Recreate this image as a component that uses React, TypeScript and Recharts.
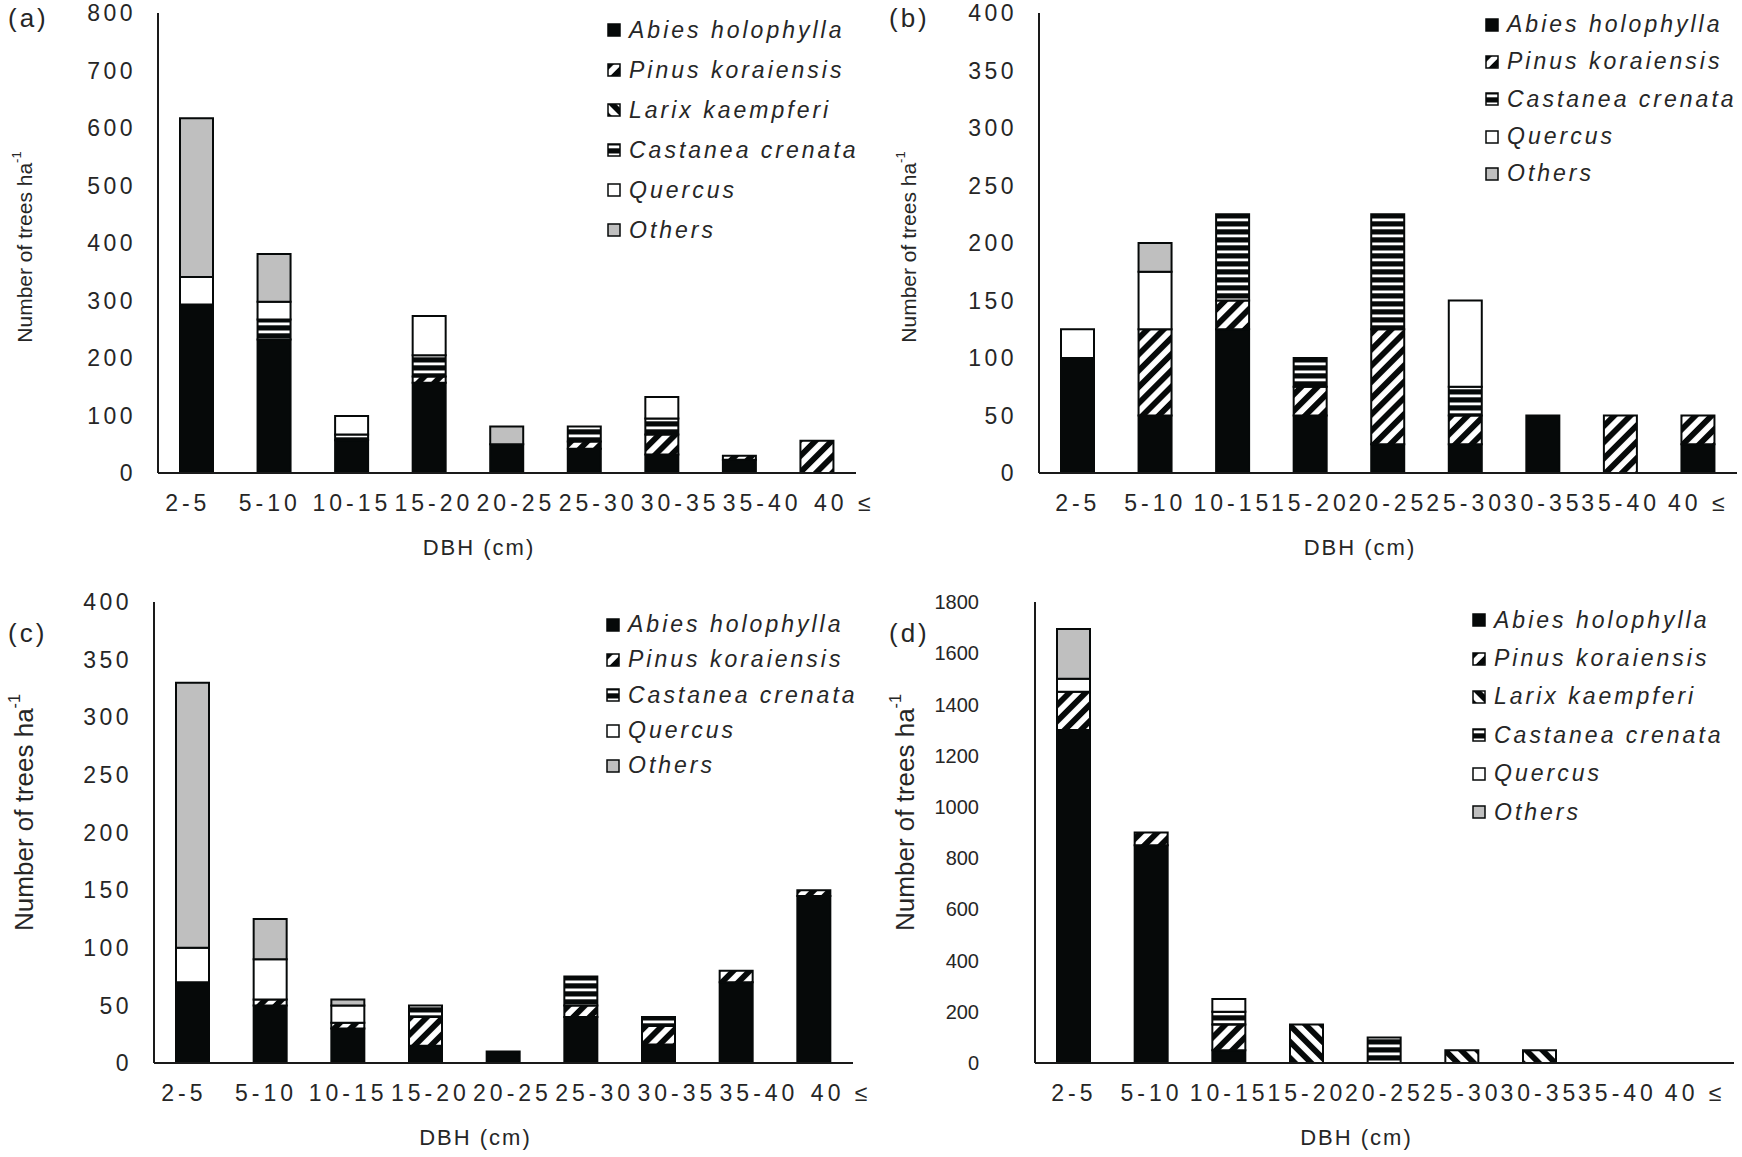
import { BarChart, Bar, XAxis, YAxis, Label } from "recharts";

// DBH classes on the x axis
const categories = ["2-5", "5-10", "10-15", "15-20", "20-25", "25-30", "30-35", "35-40", "40 ≤"];

// (a)
const abiesA = [293, 232, 57, 157, 50, 42, 32, 23, 0];
const pinusA = [0, 0, 0, 11, 0, 13, 35, 7, 56];
const larixA = [0, 0, 0, 0, 0, 0, 0, 0, 0];
const castaneaA = [0, 35, 10, 37, 0, 26, 28, 0, 0];
const quercusA = [48, 31, 32, 68, 0, 0, 37, 0, 0];
const othersA = [276, 83, 0, 0, 31, 0, 0, 0, 0];

// (b)
const abiesB = [100, 50, 125, 50, 25, 25, 50, 0, 25];
const pinusB = [0, 75, 25, 25, 100, 25, 0, 50, 25];
const castaneaB = [0, 0, 75, 25, 100, 25, 0, 0, 0];
const quercusB = [25, 50, 0, 0, 0, 75, 0, 0, 0];
const othersB = [0, 25, 0, 0, 0, 0, 0, 0, 0];

// (c)
const abiesC = [70, 50, 30, 15, 10, 40, 16, 70, 145];
const pinusC = [0, 5, 5, 25, 0, 10, 16, 10, 5];
const castaneaC = [0, 0, 0, 10, 0, 25, 8, 0, 0];
const quercusC = [30, 35, 15, 0, 0, 0, 0, 0, 0];
const othersC = [230, 35, 5, 0, 0, 0, 0, 0, 0];

// (d)
const abiesD = [1300, 850, 50, 0, 0, 0, 0, 0, 0];
const pinusD = [150, 50, 100, 0, 0, 0, 0, 0, 0];
const larixD = [0, 0, 0, 150, 0, 50, 50, 0, 0];
const castaneaD = [0, 0, 50, 0, 100, 0, 0, 0, 0];
const quercusD = [50, 0, 50, 0, 0, 0, 0, 0, 0];
const othersD = [195, 0, 0, 0, 0, 0, 0, 0, 0];

const ticksA = [0, 100, 200, 300, 400, 500, 600, 700, 800];
const ticksBC = [0, 50, 100, 150, 200, 250, 300, 350, 400];
const ticksD = [0, 200, 400, 600, 800, 1000, 1200, 1400, 1600, 1800];

const INK = "#060909";
const TEXT = "#262626";
const FONT = "'Liberation Sans', Arial, sans-serif";

const SPECIES: Record<string, { name: string; fill: string }> = {
  abies: { name: "Abies holophylla", fill: INK },
  pinus: { name: "Pinus koraiensis", fill: "url(#hatch-pinus)" },
  larix: { name: "Larix kaempferi", fill: "url(#hatch-larix)" },
  castanea: { name: "Castanea crenata", fill: "url(#hatch-castanea)" },
  quercus: { name: "Quercus", fill: "#ffffff" },
  others: { name: "Others", fill: "#bfbfbf" },
};

const toRows = (cols: Record<string, number[]>) =>
  categories.map((dbh, i) => {
    const row: any = { dbh };
    Object.keys(cols).forEach((k) => (row[k] = cols[k][i]));
    return row;
  });

const Patterns = () => (
  <svg width={0} height={0} style={{ position: "absolute" }}>
    <defs>
      <pattern id="hatch-pinus" patternUnits="userSpaceOnUse" width={11.5} height={11.5} patternTransform="rotate(45)">
        <rect width={11.5} height={11.5} fill="#fff" />
        <rect width={5.8} height={11.5} fill={INK} />
      </pattern>
      <pattern id="hatch-larix" patternUnits="userSpaceOnUse" width={11.5} height={11.5} patternTransform="rotate(-45)">
        <rect width={11.5} height={11.5} fill="#fff" />
        <rect width={5.8} height={11.5} fill={INK} />
      </pattern>
      <pattern id="hatch-castanea" patternUnits="userSpaceOnUse" width={8} height={8}>
        <rect width={8} height={8} fill={INK} />
        <rect y={2.5} width={8} height={2.8} fill="#fff" />
      </pattern>
    </defs>
  </svg>
);

// category labels; in (a) and (c) they sit a little wider apart than the bars
const DbhTick = ({ x, y, payload, index, spread }: any) => (
  <text
    x={x + (index - 4) * spread + (spread ? 9 : 0)}
    y={y}
    dy="0.71em"
    textAnchor="middle"
    fontSize={23}
    fontFamily={FONT}
    fill={TEXT}
    letterSpacing={4}
  >
    {payload.value}
  </text>
);

type PanelProps = {
  left: number;
  top: number;
  width: number;
  height: number;
  margin: { top: number; right: number; bottom: number; left: number };
  cols: Record<string, number[]>;
  yMax: number;
  yTicks: number[];
  letter: string;
  letterX: number;
  letterY: number;
  yTitleX: number;
  yTitleShift: number;
  yTitleSize: number;
  yTickSize: number;
  yTickSpacing: number;
  yTickGap: number;
  tickSpread: number;
  legendX: number;
  legendY: number;
  legendRow: number;
};

const Panel = (p: PanelProps) => {
  const keys = Object.keys(p.cols);
  const rows = toRows(p.cols);
  return (
    <div style={{ position: "absolute", left: p.left, top: p.top, width: p.width, height: p.height }}>
      <BarChart width={p.width} height={p.height} data={rows} margin={p.margin}>
        <XAxis
          dataKey="dbh"
          interval={0}
          tickLine={false}
          tickSize={6}
          tickMargin={16}
          axisLine={{ stroke: "#1a1a1a", strokeWidth: 2 }}
          tick={(tp: any) => <DbhTick {...tp} spread={p.tickSpread} />}
        >
          <Label
            content={(lp: any) => {
              const vb = lp.viewBox;
              return (
                <text
                  x={vb.x + vb.width / 2 - 28}
                  y={vb.y + 74}
                  textAnchor="middle"
                  dominantBaseline="central"
                  fontSize={22}
                  fontFamily={FONT}
                  fill={TEXT}
                  letterSpacing={2}
                >
                  DBH (cm)
                </text>
              );
            }}
          />
        </XAxis>
        <YAxis
          type="number"
          domain={[0, p.yMax]}
          ticks={p.yTicks}
          interval={0}
          tickLine={false}
          tickSize={6}
          tickMargin={p.yTickGap}
          axisLine={{ stroke: "#1a1a1a", strokeWidth: 2 }}
          tick={{ fontSize: p.yTickSize, fill: TEXT, fontFamily: FONT, letterSpacing: p.yTickSpacing }}
        >
          <Label
            content={(lp: any) => {
              const vb = lp.viewBox;
              const cy = vb.y + vb.height / 2 + p.yTitleShift;
              return (
                <text
                  x={p.yTitleX}
                  y={cy}
                  transform={`rotate(-90 ${p.yTitleX} ${cy})`}
                  textAnchor="middle"
                  dominantBaseline="central"
                  fontSize={p.yTitleSize}
                  fontFamily={FONT}
                  fill={TEXT}
                >
                  Number of trees ha
                  <tspan fontSize={p.yTitleSize * 0.62} dy={-p.yTitleSize * 0.38}>
                    -1
                  </tspan>
                </text>
              );
            }}
          />
        </YAxis>
        {keys.map((k) => (
          <Bar
            key={k}
            dataKey={k}
            name={SPECIES[k].name}
            stackId="dbh"
            fill={SPECIES[k].fill}
            stroke={INK}
            strokeWidth={2}
            barSize={33}
            isAnimationActive={false}
          />
        ))}
      </BarChart>

      <div
        style={{
          position: "absolute",
          left: p.letterX,
          top: p.letterY,
          fontFamily: FONT,
          fontSize: 26,
          letterSpacing: 3,
          color: TEXT,
        }}
      >
        {p.letter}
      </div>

      <div style={{ position: "absolute", left: p.legendX, top: p.legendY }}>
        {keys.map((k) => (
          <div
            key={k}
            style={{
              display: "flex",
              alignItems: "center",
              height: p.legendRow,
              fontFamily: FONT,
              fontSize: 23,
              fontStyle: "italic",
              letterSpacing: 3,
              color: TEXT,
              whiteSpace: "nowrap",
            }}
          >
            <svg width={14} height={14} style={{ marginRight: 8 }}>
              <rect x={1} y={1} width={12} height={12} fill={SPECIES[k].fill} stroke={INK} strokeWidth={1.5} />
            </svg>
            {SPECIES[k].name}
          </div>
        ))}
      </div>
    </div>
  );
};

export default function App() {
  return (
    <div style={{ position: "absolute", left: 0, top: 0, width: 1742, height: 1157, background: "#fff" }}>
      <Patterns />
      <Panel
        left={0}
        top={0}
        width={895}
        height={578}
        margin={{ top: 13, right: 39, bottom: 75, left: 98 }}
        cols={{ abies: abiesA, pinus: pinusA, larix: larixA, castanea: castaneaA, quercus: quercusA, others: othersA }}
        yMax={800}
        yTicks={ticksA}
        letter="(a)"
        letterX={8}
        letterY={3}
        yTitleX={24}
        yTitleShift={4}
        yTitleSize={21}
        yTickSize={23}
        yTickSpacing={3.5}
        yTickGap={16}
        tickSpread={4.5}
        legendX={607}
        legendY={10}
        legendRow={40}
      />
      <Panel
        left={871}
        top={0}
        width={871}
        height={578}
        margin={{ top: 13, right: 5, bottom: 75, left: 108 }}
        cols={{ abies: abiesB, pinus: pinusB, castanea: castaneaB, quercus: quercusB, others: othersB }}
        yMax={400}
        yTicks={ticksBC}
        letter="(b)"
        letterX={18}
        letterY={3}
        yTitleX={37}
        yTitleShift={4}
        yTitleSize={21}
        yTickSize={23}
        yTickSpacing={3.5}
        yTickGap={16}
        tickSpread={0}
        legendX={614}
        legendY={6}
        legendRow={37.3}
      />
      <Panel
        left={0}
        top={578}
        width={895}
        height={579}
        margin={{ top: 24, right: 42, bottom: 64, left: 94 }}
        cols={{ abies: abiesC, pinus: pinusC, castanea: castaneaC, quercus: quercusC, others: othersC }}
        yMax={400}
        yTicks={ticksBC}
        letter="(c)"
        letterX={8}
        letterY={40}
        yTitleX={24}
        yTitleShift={-20}
        yTitleSize={26}
        yTickSize={23}
        yTickSpacing={3.5}
        yTickGap={16}
        tickSpread={4.5}
        legendX={606}
        legendY={29}
        legendRow={35.3}
      />
      <Panel
        left={871}
        top={578}
        width={871}
        height={579}
        margin={{ top: 24, right: 8, bottom: 64, left: 104 }}
        cols={{ abies: abiesD, pinus: pinusD, larix: larixD, castanea: castaneaD, quercus: quercusD, others: othersD }}
        yMax={1800}
        yTicks={ticksD}
        letter="(d)"
        letterX={18}
        letterY={40}
        yTitleX={34}
        yTitleShift={-20}
        yTitleSize={26}
        yTickSize={20}
        yTickSpacing={0}
        yTickGap={50}
        tickSpread={0}
        legendX={601}
        legendY={23}
        legendRow={38.4}
      />
    </div>
  );
}
